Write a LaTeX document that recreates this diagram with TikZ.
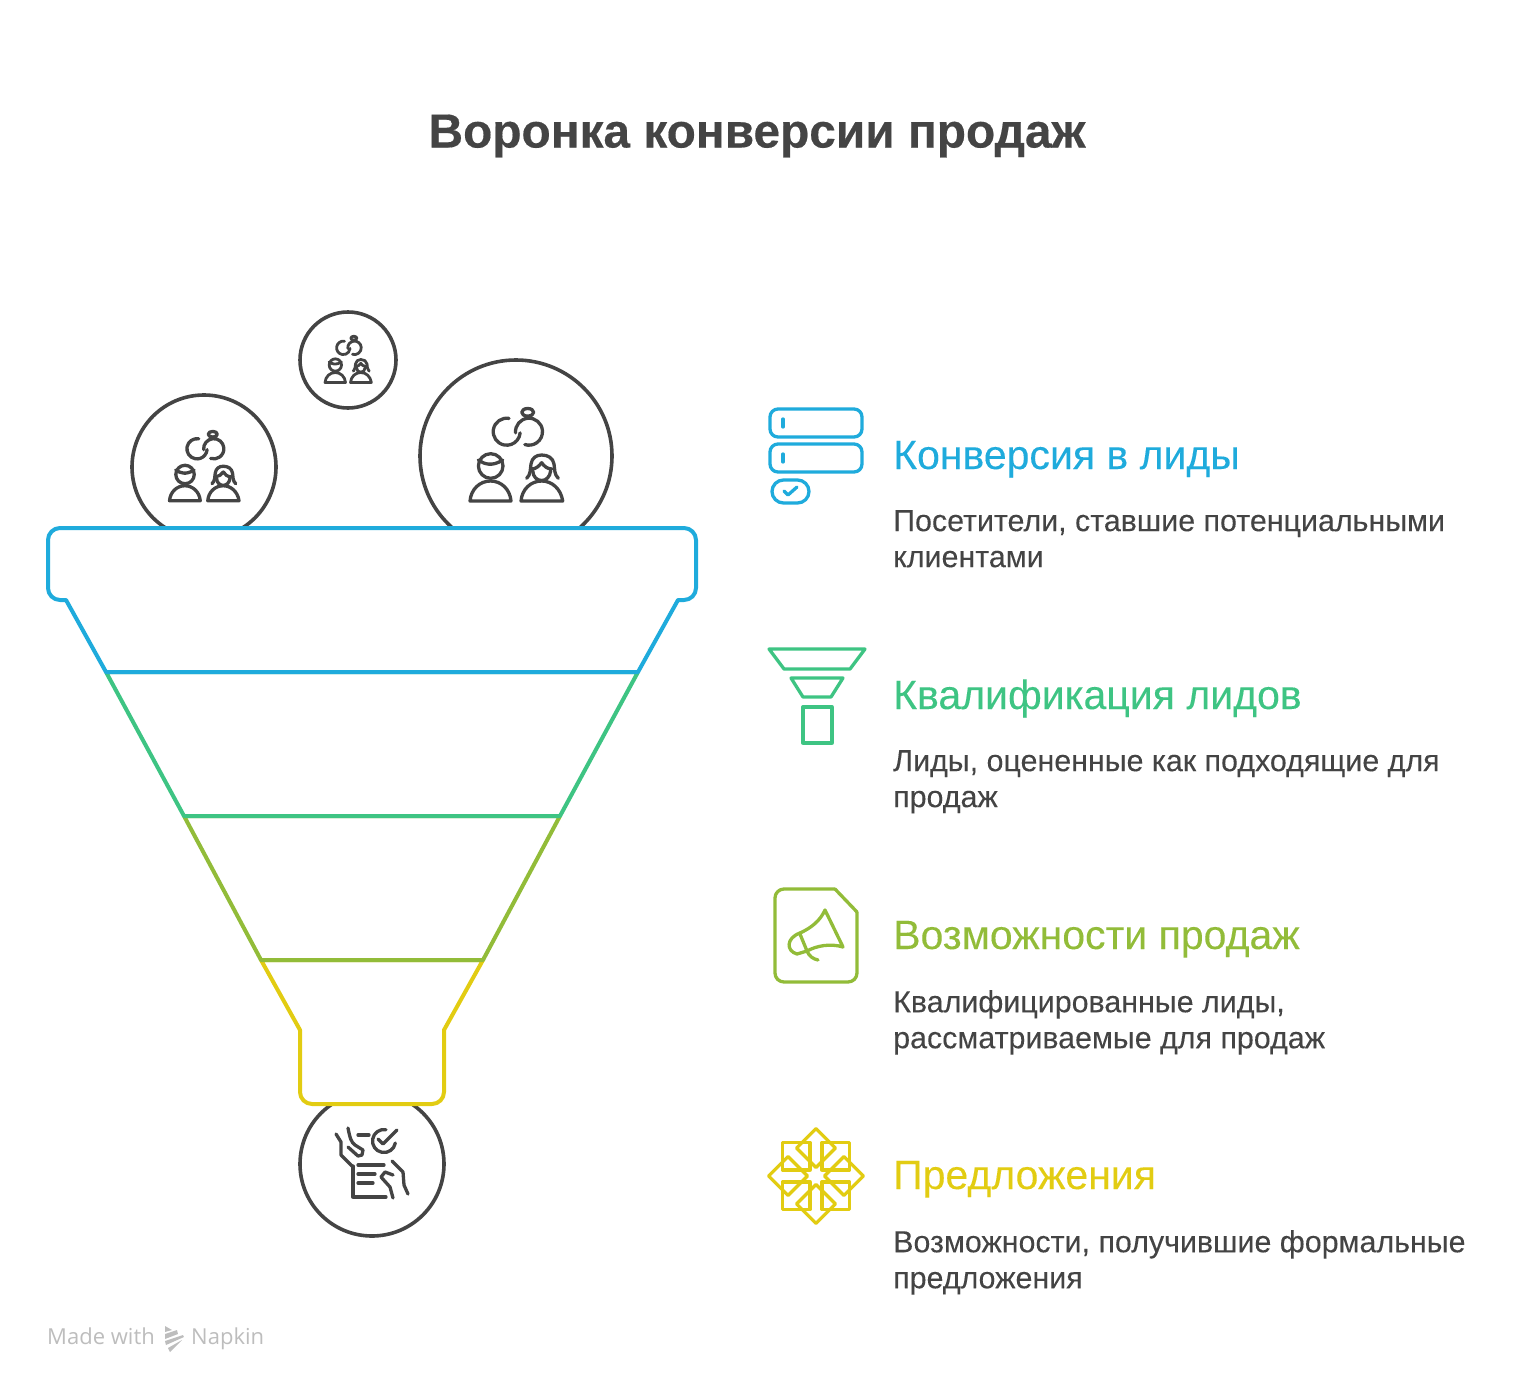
\documentclass[tikz,border=0pt]{standalone}
\usepackage{fontspec}
\setmainfont{Liberation Sans}
\newfontfamily\headfont[BoldFeatures={FakeBold=0.35}]{Liberation Sans}
\newfontfamily\bodyfont[FakeBold=0.12]{Liberation Sans}
\newfontfamily\markfont{Open Sans}
\usepackage{tikz}
\usetikzlibrary{calc}
\definecolor{inkgrey}{HTML}{444444}
\definecolor{leadblue}{HTML}{1FABDC}
\definecolor{qualgreen}{HTML}{3EC483}
\definecolor{saleolive}{HTML}{92BC39}
\definecolor{offeryellow}{HTML}{E2CC12}
\definecolor{markgrey}{HTML}{BDBDBD}
\tikzset{
  x=1pt,
  y=-1pt,
  funnel line/.style={line width=4pt,line join=round,fill=white},
  icon line/.style={line width=3.3pt,line cap=round,line join=round},
  ball/.style={draw=inkgrey,line width=3.6pt},
  main title/.style={font=\fontsize{47.8}{50}\selectfont\headfont\bfseries,text=inkgrey,anchor=base},
  row title/.style={font=\fontsize{41}{44}\selectfont\bodyfont,anchor=base west,inner sep=0pt},
  row text/.style={font=\fontsize{30.4}{36}\selectfont\bodyfont,text=inkgrey,anchor=north west,align=left,inner sep=0pt},
  couple/.pic={
    \draw (-9.3,-24.3) ++(-80:13.5) arc[start angle=-80,end angle=-355,radius=13.5];
    \draw (13,-24.3) ++(175:13.5) arc[start angle=175,end angle=468,radius=13.5];
    \draw (11.7,-43.7) circle[x radius=6,y radius=3.8];
    \draw (-25.3,10) circle[radius=12.3];
    \draw (-37.7,4) .. controls (-32,8) and (-24,11) .. (-13.3,4);
    \draw (-46,45) .. controls (-45,33) and (-36,25) .. (-25.5,25)
      .. controls (-15,25) and (-6,33) .. (-5,45) -- cycle;
    \draw (10.7,22.3) .. controls (15,18) and (14,14) .. (15,8)
      .. controls (16,2) and (20,-1) .. (25.7,-1)
      .. controls (32,-1) and (37,2) .. (38,8)
      .. controls (39,14) and (38,18) .. (42.3,22.3);
    \draw (15.7,13) .. controls (20,13) and (23,10) .. (25.7,6.7)
      .. controls (28,10) and (31,13) .. (36,13);
    \draw (16.7,14.7) .. controls (17,21) and (21,24.5) .. (25.7,24.5)
      .. controls (30,24.5) and (34,21) .. (34.7,14.7);
    \draw (5,45) .. controls (6,33) and (15,25) .. (25.7,25)
      .. controls (36,25) and (45,33) .. (46.7,45) -- cycle;
  }
}
\begin{document}
\begin{tikzpicture}
\useasboundingbox (0,0) rectangle (1537,1392);
\node[main title] (heading) at (757,147.5) {Воронка конверсии продаж};

\node[circle,ball,minimum size=144pt,inner sep=0pt] (ballleft) at (204,467) {};
\node[circle,ball,minimum size=96pt,inner sep=0pt] (balltop) at (348,360) {};
\node[circle,ball,minimum size=192pt,inner sep=0pt] (ballright) at (516,456) {};
\node[circle,ball,minimum size=144pt,inner sep=0pt] (ballout) at (372,1164) {};
\pic[draw=inkgrey,icon line,scale=.75] at (ballleft) {couple};
\pic[draw=inkgrey,icon line,line width=2.8pt,scale=.5] at (balltop) {couple};
\pic[draw=inkgrey,icon line] at (ballright) {couple};

% funnel, bottom part first
\draw[funnel line,draw=offeryellow] (261,960) -- (300,1030) -- (300,1092)
  arc[start angle=180,end angle=90,radius=12] -- (432,1104)
  arc[start angle=90,end angle=0,radius=12] -- (444,1030) -- (483,960) -- cycle;
\draw[funnel line,draw=saleolive] (184,816) -- (261,960) -- (483,960) -- (560,816) -- cycle;
\draw[funnel line,draw=qualgreen] (106,672) -- (184,816) -- (560,816) -- (638,672) -- cycle;
\draw[funnel line,draw=leadblue] (106,672) -- (66,600) -- (60,600)
  arc[start angle=90,end angle=180,radius=12] -- (48,540)
  arc[start angle=180,end angle=270,radius=12] -- (684,528)
  arc[start angle=-90,end angle=0,radius=12] -- (696,588)
  arc[start angle=0,end angle=90,radius=12] -- (678,600) -- (638,672) -- cycle;

% icon in the lower ball
\begin{scope}[draw=inkgrey,icon line]
\draw (358,1135) -- (369,1135);
\draw (384,1141) ++(-80:11.5) arc[start angle=-80,end angle=-350,radius=11.5];
\draw (378,1139) -- (383,1144) -- (397,1130);
\draw (353,1166) -- (353,1197) -- (386,1197);
\draw (358,1165) -- (384,1165);
\draw (358,1174) -- (375,1174);
\draw (358,1183) -- (373,1183);
\draw (336,1134) -- (341,1142) -- (341,1155) -- (353,1167);
\draw (348,1128) .. controls (350,1138) and (351,1142) .. (355,1145)
  -- (363,1150) -- (362,1155) -- (358,1156) -- (348,1147);
\draw (392,1161) -- (403,1172) -- (404,1185) -- (408,1194);
\draw (393,1175) -- (385,1172) -- (381,1177) -- (390,1187) -- (393,1198);
\end{scope}

% rows on the right
\foreach \k/\col/\ttl/\txt in {%
  0/leadblue/Конверсия в лиды/{Посетители, ставшие потенциальными\\клиентами},
  1/qualgreen/Квалификация лидов/{Лиды, оцененные как подходящие для\\продаж},
  2/saleolive/Возможности продаж/{Квалифицированные лиды,\\рассматриваемые для продаж},
  3/offeryellow/Предложения/{Возможности, получившие формальные\\предложения}%
} {
  \node[row title,text=\col] (title\k) at (893,469+240*\k) {\ttl};
  \node[row text] (text\k) at (893,510+240*\k) {\txt};
}

% blue icon
\begin{scope}[draw=leadblue,icon line]
\draw[rounded corners=8pt] (770,409) rectangle (862,437);
\draw[rounded corners=8pt] (770,444) rectangle (862,472);
\draw (783,419) -- (783,427);
\draw (783,454) -- (783,462);
\draw[rounded corners=11.5pt] (772,480) rectangle (809,503);
\draw (784,491) -- (788,495) -- (797,487);
\end{scope}

% green icon
\begin{scope}[draw=qualgreen,icon line]
\draw (769,649) -- (865,649) -- (850,669) -- (784,669) -- cycle;
\draw (791,678) -- (843,678) -- (831,697) -- (803,697) -- cycle;
\draw (803,707) rectangle (832,743);
\end{scope}

% olive icon
\begin{scope}[draw=saleolive,icon line]
\draw[rounded corners=9pt] (835,889) -- (775,889) -- (775,982) -- (857,982) -- (857,912);
\draw (835,889) -- (857,912);
\draw (825,910) -- (843,947) .. controls (830,943) and (816,946) .. (807,951);
\draw (825,910) .. controls (820,921) and (811,928) .. (800,933);
\draw (800,933) .. controls (786,938) and (786,951) .. (797,954) -- (807,951);
\draw (800,934) -- (807,951) .. controls (809,956) and (813,959) .. (818,960);
\end{scope}

% yellow icon
\begin{scope}[draw=offeryellow,icon line,shift={(816,1176)}]
\foreach \a in {0,45,...,315} {
  \draw[rotate=\a] (-6,-6) -- (-6,-33.5) -- (-33.5,-33.5) -- (-33.5,-6) -- cycle;
}
\end{scope}

\node[font=\fontsize{22}{26}\selectfont\markfont,text=markgrey,anchor=base west,inner sep=0pt] (madewith) at (47,1344) {Made with};
\node[font=\fontsize{22}{26}\selectfont\markfont,text=markgrey,anchor=base west,inner sep=0pt] (napkin) at (191,1344) {Napkin};
\fill[markgrey] (165,1326) -- (172,1330) -- (165,1332) -- cycle;
\fill[markgrey] (165,1334) -- (177,1330) -- (178,1334) -- (165,1339) -- cycle;
\fill[markgrey] (165,1341) -- (183,1335) -- (184,1337) -- (166,1345) -- cycle;
\fill[markgrey] (168,1348) -- (182,1340) -- (170,1352) -- cycle;
\end{tikzpicture}
\end{document}
